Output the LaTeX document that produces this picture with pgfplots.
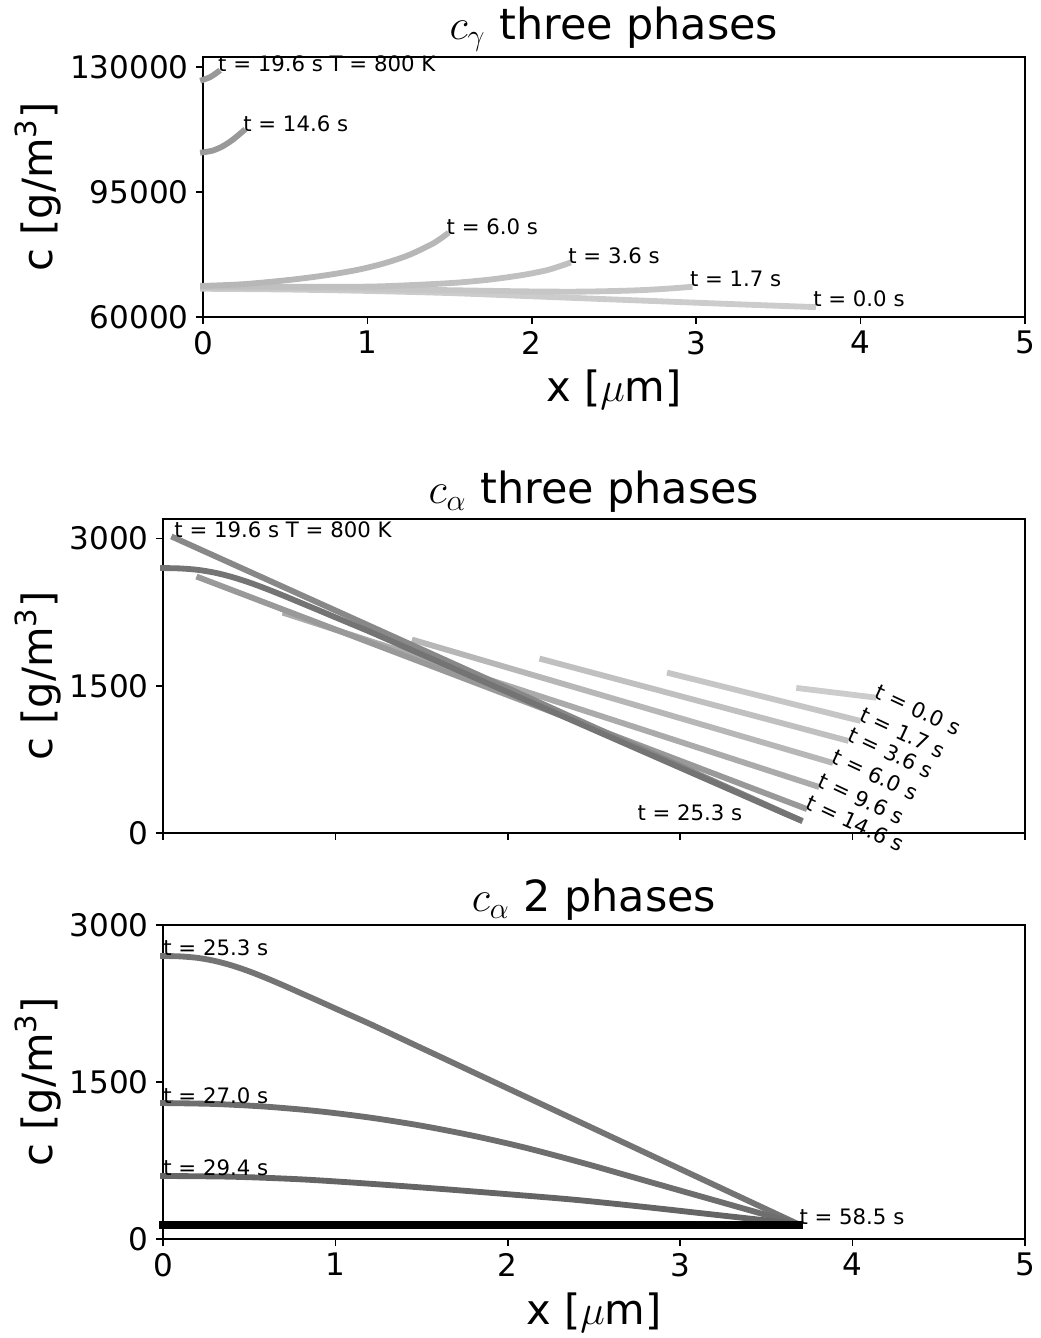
\documentclass[border=0pt]{standalone}
\usepackage{fix-cm}
\usepackage{fontspec}
\setmainfont{DejaVu Sans}
\usepackage{pgfplots}
\pgfplotsset{compat=1.18}

\definecolor{c00}{gray}{0.80}
\definecolor{c17}{gray}{0.777}
\definecolor{c36}{gray}{0.751}
\definecolor{c60}{gray}{0.718}
\definecolor{c96}{gray}{0.669}
\definecolor{c146}{gray}{0.60}
\definecolor{c196}{gray}{0.532}
\definecolor{c253}{gray}{0.454}
\definecolor{c270}{gray}{0.431}
\definecolor{c294}{gray}{0.398}

\tikzset{ann/.style={font=\fontsize{10.2}{12}\selectfont, inner sep=0pt, anchor=base west}}
\pgfplotsset{
  base/.style={
    scale only axis,
    clip=false,
    xmin=0, xmax=5,
    xtick={0,1,2,3,4,5},
    xtick pos=bottom, ytick pos=left,
    tick align=outside,
    major tick length=3.36pt,
    every tick/.style={black, line width=0.7pt},
    axis line style={line width=0.7pt},
    tick label style={font=\fontsize{14.9}{16}\selectfont},
    label style={font=\fontsize{20}{22}\selectfont},
    title style={font=\fontsize{20.6}{22}\selectfont, at={(axis description cs:0.5,1)}, anchor=base},
    /pgf/number format/fixed,
    /pgf/number format/precision=0,
    /pgf/number format/assume math mode=true,
    /pgf/number format/set thousands separator={},
    scaled y ticks=false,
    every axis plot/.append style={line width=2.8pt, line cap=rect, no markers},
  },
}

\begin{document}
\begin{tikzpicture}
\path[use as bounding box] (-78.24pt,-47.52pt) rectangle (421.44pt,594.72pt);

% ---------------- top axis ----------------
\begin{axis}[base,
  at={(19.2pt,442.56pt)}, anchor=south west,
  width=394.56pt, height=124.8pt,
  ymin=60000, ymax=132800,
  ytick={60000,95000,130000},
  xlabel={x [$\mu$m]},
  ylabel={c [g/m\textsuperscript{3}]},
  xlabel style={at={(axis description cs:0.5,-0.281)}, anchor=center},
  ylabel style={at={(axis description cs:-0.2007,0.5)}, anchor=center},
  title={$c_\gamma$ three phases},
  title style={yshift=2.4pt},
]
\addplot[c00, smooth] coordinates {(0,67900)(0.5,67700)(1,67300)(1.5,66700)(2,65800)(2.5,64900)(3,64000)(3.4,63300)(3.71,62800)};
\addplot[c17, smooth] coordinates {(0,68300)(0.5,68150)(1,67900)(1.5,67500)(2,67150)(2.3,67100)(2.6,67400)(2.8,67850)(2.96,68400)};
\addplot[c36, smooth] coordinates {(0,68500)(0.5,68450)(1.0,68500)(1.3,69000)(1.54,69600)(1.75,70500)(1.95,71800)(2.1,73200)(2.22,75000)};
\addplot[c60, smooth] coordinates {(0,68700)(0.25,69200)(0.53,70400)(0.75,71700)(0.94,73200)(1.1,75000)(1.25,77300)(1.4,80600)(1.48,83100)};
\addplot[c146, smooth] coordinates {(0,106100)(0.06,106600)(0.12,107800)(0.18,109600)(0.243,112000)};
\addplot[c146, smooth] coordinates {(0,126400)(0.045,127200)(0.09,128600)};
\node[ann] at (axis cs:0.09,128600) {t = 19.6 s T = 800 K};
\node[ann] at (axis cs:0.243,112000) {t = 14.6 s};
\node[ann] at (axis cs:1.48,83100) {t = 6.0 s};
\node[ann] at (axis cs:2.22,75000) {t = 3.6 s};
\node[ann] at (axis cs:2.96,68400) {t = 1.7 s};
\node[ann] at (axis cs:3.71,62800) {t = 0.0 s};
\end{axis}

% ---------------- middle axis ----------------
\begin{axis}[base,
  at={(0pt,194.88pt)}, anchor=south west,
  width=413.76pt, height=150.72pt,
  ymin=0, ymax=3200,
  ytick={0,1500,3000},
  xticklabels={},
  ylabel={c [g/m\textsuperscript{3}]},
  ylabel style={at={(axis description cs:-0.145,0.5)}, anchor=center},
  title={$c_\alpha$ three phases},
  title style={yshift=1.4pt},
]
\addplot[c00] coordinates {(3.69,1475)(4.12,1383)};
\addplot[c17] coordinates {(2.94,1627)(4.03,1149)};
\addplot[c36] coordinates {(2.20,1770)(3.96,946)};
\addplot[c60] coordinates {(1.46,1963)(3.87,722)};
\addplot[c96] coordinates {(0.71,2237)(3.79,478)};
\addplot[c146] coordinates {(0.21,2603)(3.72,254)};
\addplot[c196] coordinates {(0.064,3010)(3.695,132)};
\addplot[c253, smooth] coordinates {(0,2700)(0.1,2696)(0.2,2682)(0.3,2653)(0.4,2609)(0.5,2553)(0.6,2488)(0.7,2418)(0.8,2345)(0.9,2272)(1.0,2198)(1.2,2051)(1.4,1897)(1.6,1743)(1.8,1589)(2.0,1435)(2.2,1281)(2.4,1127)(2.6,973)(2.8,819)(3.0,665)(3.2,511)(3.4,357)(3.6,203)(3.69,136)};
\node[ann] at (axis cs:0.064,3010) {t = 19.6 s T = 800 K};
\node[ann] at (axis cs:2.75,132) {t = 25.3 s};
\node[ann, rotate=-25] at (axis cs:4.12,1383) {t = 0.0 s};
\node[ann, rotate=-25] at (axis cs:4.03,1149) {t = 1.7 s};
\node[ann, rotate=-25] at (axis cs:3.96,946) {t = 3.6 s};
\node[ann, rotate=-25] at (axis cs:3.87,722) {t = 6.0 s};
\node[ann, rotate=-25] at (axis cs:3.79,478) {t = 9.6 s};
\node[ann, rotate=-25] at (axis cs:3.72,254) {t = 14.6 s};
\end{axis}

% ---------------- bottom axis ----------------
\begin{axis}[base,
  at={(0pt,0pt)}, anchor=south west,
  width=413.76pt, height=150.72pt,
  ymin=0, ymax=3000,
  ytick={0,1500,3000},
  xlabel={x [$\mu$m]},
  ylabel={c [g/m\textsuperscript{3}]},
  xlabel style={at={(axis description cs:0.5,-0.236)}, anchor=center},
  ylabel style={at={(axis description cs:-0.145,0.5)}, anchor=center},
  title={$c_\alpha$ 2 phases},
  title style={yshift=0.44pt},
]
\addplot[c253, smooth] coordinates {(0,2704)(0.1,2700)(0.2,2686)(0.3,2657)(0.4,2613)(0.5,2557)(0.6,2492)(0.7,2422)(0.8,2349)(0.9,2276)(1.0,2202)(1.2,2055)(1.4,1901)(1.6,1747)(1.8,1593)(2.0,1439)(2.2,1285)(2.4,1131)(2.6,977)(2.8,823)(3.0,669)(3.2,515)(3.4,361)(3.6,207)(3.69,138)};
\addplot[c270, smooth] coordinates {(0,1299)(0.3,1290)(0.6,1264)(0.9,1221)(1.2,1160)(1.5,1082)(1.8,986)(2.1,873)(2.45,720)(2.8,556)(3.1,416)(3.4,276)(3.69,140)};
\addplot[c294, smooth] coordinates {(0,602)(0.4,595)(0.8,570)(1.2,528)(1.6,480)(2.0,428)(2.4,373)(2.8,305)(3.2,232)(3.5,177)(3.69,140)};
\addplot[black, line width=3.4pt] coordinates {(0,134)(3.69,134)};
\node[ann] at (axis cs:0,2704) {t = 25.3 s};
\node[ann] at (axis cs:0,1299) {t = 27.0 s};
\node[ann] at (axis cs:0,602) {t = 29.4 s};
\node[ann] at (axis cs:3.69,134) {t = 58.5 s};
\end{axis}
\end{tikzpicture}
\end{document}
